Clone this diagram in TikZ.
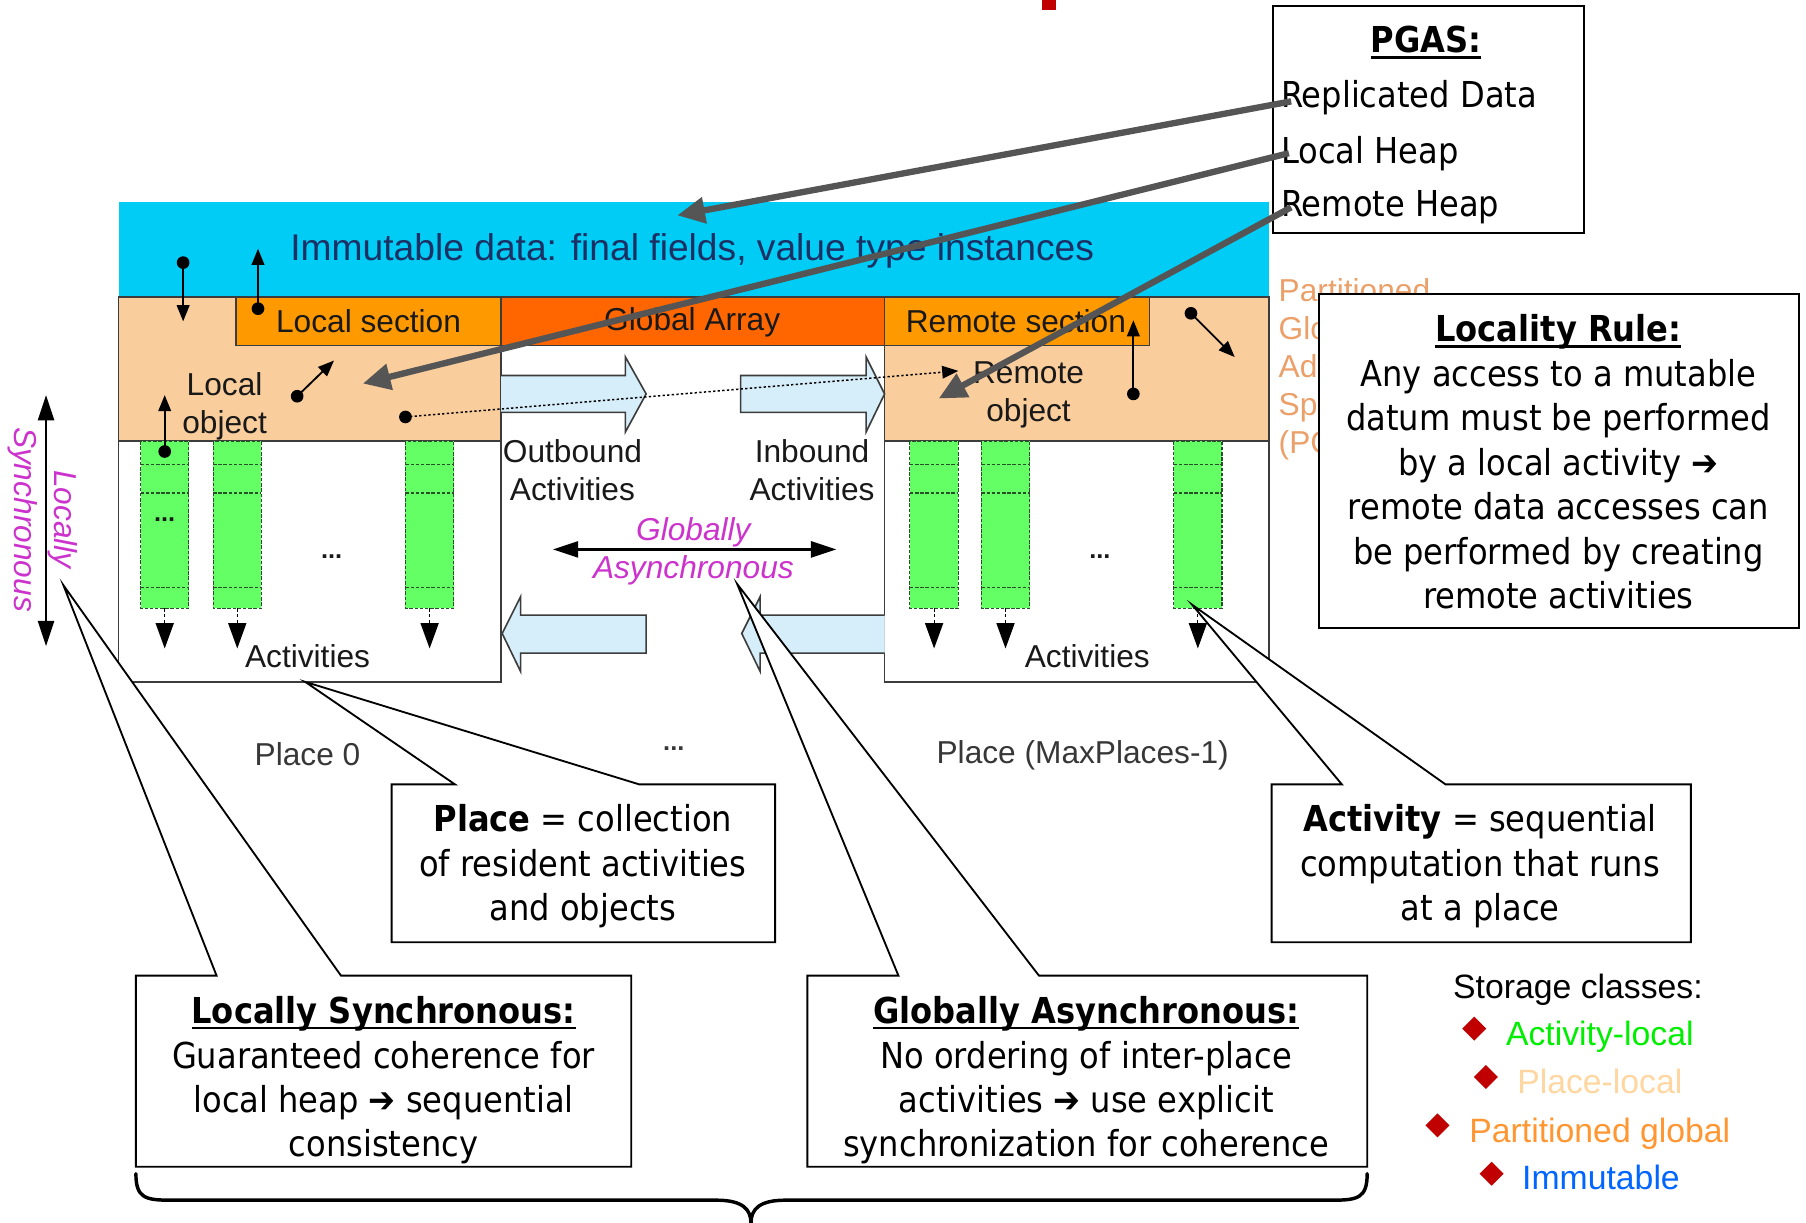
\documentclass[tikz,border=0pt]{standalone}
\usepackage{fontspec}
\setmainfont{Liberation Sans}
\newfontfamily\cf[FakeStretch=0.9]{DejaVu Sans}
\usetikzlibrary{arrows.meta,shapes.geometric}
\definecolor{cband}{RGB}{0,204,245}
\definecolor{immtext}{RGB}{28,48,100}
\definecolor{peach}{RGB}{250,205,157}
\definecolor{orA}{RGB}{255,153,0}
\definecolor{orB}{RGB}{255,102,0}
\definecolor{grn}{RGB}{100,255,100}
\definecolor{grnedge}{RGB}{40,80,40}
\definecolor{lblue}{RGB}{214,238,250}
\definecolor{edgec}{RGB}{60,60,60}
\definecolor{pgrey}{RGB}{85,85,85}
\definecolor{mag}{RGB}{204,51,204}
\definecolor{pgasor}{RGB}{235,160,105}
\definecolor{dred}{RGB}{192,0,0}
\definecolor{sgreen}{RGB}{0,238,0}
\definecolor{splace}{RGB}{255,214,160}
\definecolor{spart}{RGB}{255,150,50}
\definecolor{simm}{RGB}{0,102,255}
\definecolor{placegrey}{RGB}{55,55,55}
\newcommand\myul[1]{\leavevmode\setbox0=\hbox{#1}\rlap{\rule[-5pt]{\wd0}{2pt}}\box0}
\begin{document}
\begin{tikzpicture}[x=1pt,y=-1pt,
  dlabel/.style={font=\fontsize{27.5}{33}\selectfont, inner sep=0pt, text=black!90, align=center},
  colabel/.style={font=\cf\fontsize{31}{38.6}\selectfont, inner sep=0pt, align=center},
  callout/.style={draw=black, fill=white, line width=1.6pt, line join=miter},
  sarrow/.style={line width=1.6pt, -{Triangle[length=14pt,width=11pt]}},
  bigarrow/.style={draw=pgrey, line width=5.5pt, -{Triangle[length=24pt,width=22pt]}},
  blockarrow/.style={fill=lblue, draw=edgec, line width=1.4pt, line join=miter},
  boxline/.style={draw=edgec, line width=1.5pt},
  actcol/.style={fill=grn, draw=grnedge, dash pattern=on 3pt off 1.5pt, line width=1pt},
  pgastext/.style={font=\fontsize{27.5}{33}\selectfont, text=pgasor, inner sep=0pt, anchor=base west},
  storetext/.style={font=\fontsize{29.3}{34}\selectfont, inner sep=0pt, anchor=base},
  sdiam/.style={diamond, fill=dred, inner sep=0pt, minimum size=21pt},
  dmark/.style={fill=black}
]
\useasboundingbox (0,0) rectangle (1568,1061);

% red mark at top
\fill[dred] (905,0) rectangle (917,9);

% immutable band
\fill[cband] (103,175) rectangle (1102,258);
\node[dlabel, font=\fontsize{32.3}{38}\selectfont, text=immtext] (immt) at (601,218) {Immutable data: final fields, value type instances};

% places
\fill[white] (103,258) rectangle (435,592);
\fill[peach] (103,258) rectangle (435,383);
\draw[boxline] (103,258) rectangle (435,592);
\draw[boxline] (103,383) -- (435,383);
\fill[white] (768,258) rectangle (1102,592);
\fill[peach] (768,258) rectangle (1102,383);
\draw[boxline] (768,258) rectangle (1102,592);
\draw[boxline] (768,383) -- (1102,383);

% partitioned global array
\draw[boxline, fill=orA] (205,258) rectangle (435,300);
\draw[boxline, fill=orB] (435,258) rectangle (768,300);
\draw[boxline, fill=orA] (768,258) rectangle (998,300);
\node[dlabel] (lsec) at (320,279) {Local section};
\node[dlabel] (garr) at (601,280) {Global Array};
\node[dlabel] (rsec) at (882,279) {Remote section};

% objects
\node[dlabel] (lobj) at (195,353) {Local\\object};
\node[dlabel] (robj) at (893,343) {Remote\\object};

% activity columns
\foreach \cx in {122,185,352,790,852,1019} {
  \draw[actcol] (\cx,383) rectangle (\cx+42,528);
  \foreach \yy in {403,428,510} \draw[grnedge, dash pattern=on 3pt off 1.5pt, line width=1pt] (\cx,\yy) -- (\cx+42,\yy);
  \draw[black, dash pattern=on 3pt off 2pt, line width=1pt] (\cx+21,528) -- (\cx+21,543);
  \fill (\cx+13,541) -- (\cx+29,541) -- (\cx+21,563) -- cycle;
}
\node[dlabel, font=\bfseries\fontsize{22}{22}\selectfont] (cdots) at (143,451) {...};
\node[dlabel, font=\bfseries\fontsize{22}{22}\selectfont] (adots0) at (288,483) {...};
\node[dlabel, font=\bfseries\fontsize{22}{22}\selectfont] (adots1) at (955,483) {...};
\node[dlabel] (act0) at (267,570) {Activities};
\node[dlabel] (act1) at (944,570) {Activities};

% dots and small arrows
\coordinate (d1) at (159,228); \coordinate (d1e) at (159,279);
\coordinate (d2) at (224,268); \coordinate (d2e) at (224,216);
\coordinate (d3) at (143,392); \coordinate (d3e) at (143,343);
\coordinate (d4) at (258,344); \coordinate (d4e) at (290,313);
\coordinate (d5) at (352,362); \coordinate (d5e) at (832,322);
\coordinate (d6) at (984,342); \coordinate (d6e) at (984,278);
\coordinate (d7) at (1034,272); \coordinate (d7e) at (1072,310);
\foreach \d in {d1,d2,d3,d4,d6,d7} {
  \fill[dmark] (\d) circle[radius=5.5pt];
  \draw[sarrow] (\d) -- (\d e);
}

% block arrows
\fill[lblue] (435,326) -- (543,326) -- (543,310) -- (561,342) -- (543,375) -- (543,358) -- (435,358) -- cycle;
\draw[blockarrow] (435,326) -- (543,326) -- (543,310) -- (561,342) -- (543,375) -- (543,358) -- (435,358);
\draw[blockarrow] (643,326) -- (752,326) -- (752,310) -- (768,342) -- (752,375) -- (752,358) -- (643,358) -- cycle;
\draw[blockarrow] (436,550) -- (452,518) -- (452,534) -- (561,534) -- (561,567) -- (452,567) -- (452,583) -- cycle;
\fill[lblue] (644,550) -- (660,518) -- (660,534) -- (768,534) -- (768,567) -- (660,567) -- (660,583) -- cycle;
\draw[blockarrow] (768,534) -- (660,534) -- (660,518) -- (644,550) -- (660,583) -- (660,567) -- (768,567);

% dotted remote access
\fill[dmark] (d5) circle[radius=5.5pt];
\draw[line width=1.3pt, dash pattern=on 2pt off 2pt, -{Triangle[length=14pt,width=11pt]}] (d5) -- (d5e);

\node[dlabel] (outb) at (497,408) {Outbound\\Activities};
\node[dlabel] (inb) at (705,408) {Inbound\\Activities};

% globally asynchronous arrow
\coordinate (ga1) at (480,477); \coordinate (ga2) at (726,477);
\draw[line width=2pt, {Triangle[length=22pt,width=14pt]}-{Triangle[length=22pt,width=14pt]}] (ga1) -- (ga2);
\node[dlabel, font=\itshape\fontsize{27.5}{33}\selectfont, text=mag] (gatxt) at (602,479) {Globally\\Asynchronous};

% locally synchronous arrow
\coordinate (ls1) at (40,343); \coordinate (ls2) at (40,561);
\draw[line width=2pt, {Triangle[length=22pt,width=14pt]}-{Triangle[length=22pt,width=14pt]}] (ls1) -- (ls2);
\node[dlabel, font=\itshape\fontsize{27.5}{35}\selectfont, text=mag, rotate=-90] (lstxt) at (37,451) {Locally\\Synchronous};

% place labels
\node[dlabel, text=placegrey] (pl0) at (267,655) {Place 0};
\node[dlabel, text=placegrey, font=\bfseries\fontsize{22}{22}\selectfont] (pldots) at (585,650) {...};
\node[dlabel, text=placegrey] (pln) at (940,656) {Place (MaxPlaces-1)};

% PGAS orange text (partly hidden)
\node[pgastext] (pg1) at (1110,262) {Partitioned};
\node[pgastext] (pg2) at (1110,295) {Global};
\node[pgastext] (pg3) at (1110,328) {Address};
\node[pgastext] (pg4) at (1110,361) {Space};
\node[pgastext] (pg5) at (1110,394) {(PGAS)};

% PGAS box
\draw[callout] (1105,5) rectangle (1375,202);
\node[colabel] (pgt) at (1238,37) {\bfseries\myul{PGAS:}};
\node[colabel, anchor=west] (rep) at (1112,85) {Replicated Data};
\node[colabel, anchor=west] (lh) at (1112,133) {Local Heap};
\node[colabel, anchor=west] (rh) at (1112,180) {Remote Heap};
\coordinate (pgs1) at (1121,88); \coordinate (pgt1) at (588,187);
\coordinate (pgs2) at (1119,133); \coordinate (pgt2) at (315,333);
\coordinate (pgs3) at (1121,180); \coordinate (pgt3) at (815,346);
\draw[bigarrow] (pgs1) -- (pgt1);
\draw[bigarrow] (pgs2) -- (pgt2);
\draw[bigarrow] (pgs3) -- (pgt3);

% Locality rule box
\draw[callout] (1145,255) rectangle (1562,545);
\node[colabel] (loc) at (1353,401) {\bfseries\myul{Locality Rule:}\\Any access to a mutable\\datum must be performed\\by a local activity ➔\\remote data accesses can\\be performed by creating\\remote activities};

% callouts
\coordinate (tipP) at (265,592);
\draw[callout] (340,681) -- (395,681) -- (tipP) -- (555,681) -- (673,681) -- (673,818) -- (340,818) -- cycle;
\node[colabel] (cplace) at (506,752) {\textbf{Place} = collection\\of resident activities\\and objects};

\coordinate (tipA) at (1035,525);
\draw[callout] (1104,681) -- (1165,681) -- (tipA) -- (1255,681) -- (1468,681) -- (1468,818) -- (1104,818) -- cycle;
\node[colabel] (cact) at (1285,752) {\textbf{Activity} = sequential\\computation that runs\\at a place};

\coordinate (tipL) at (55,508);
\draw[callout] (118,847) -- (188,847) -- (tipL) -- (296,847) -- (548,847) -- (548,1013) -- (118,1013) -- cycle;
\node[colabel] (clsync) at (333,938) {\bfseries\myul{Locally Synchronous:}\\\mdseries Guaranteed coherence for\\local heap ➔ sequential\\consistency};

\coordinate (tipG) at (640,507);
\draw[callout] (701,847) -- (780,847) -- (tipG) -- (902,847) -- (1187,847) -- (1187,1013) -- (701,1013) -- cycle;
\node[colabel] (cgasync) at (943,938) {\bfseries\myul{Globally Asynchronous:}\\\mdseries No ordering of inter-place\\activities ➔ use explicit\\synchronization for coherence};

% brace
\draw[line width=3pt, line cap=round] (118,1019) .. controls (118,1040) and (126,1042) .. (148,1042) -- (622,1042) .. controls (645,1042) and (652,1050) .. (652,1062);
\draw[line width=3pt, line cap=round] (1187,1019) .. controls (1187,1040) and (1179,1042) .. (1157,1042) -- (682,1042) .. controls (659,1042) and (652,1050) .. (652,1062);

% storage classes
\node[storetext] (stt) at (1370,866.5) {Storage classes:};
\node[sdiam] (sd1) at (1280,893) {};
\node[sdiam] (sd2) at (1290,935) {};
\node[sdiam] (sd3) at (1248,977) {};
\node[sdiam] (sd4) at (1295,1019) {};
\node[storetext, text=sgreen] (st1) at (1389,907.5) {Activity-local};
\node[storetext, text=splace] (st2) at (1389,949.5) {Place-local};
\node[storetext, text=spart] (st3) at (1389,991.5) {Partitioned global};
\node[storetext, text=simm] (st4) at (1390,1032.5) {Immutable};
\end{tikzpicture}
\end{document}
